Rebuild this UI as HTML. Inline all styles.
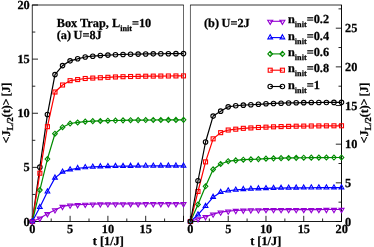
<!DOCTYPE html>
<html><head><meta charset="utf-8"><title>chart</title><style>html,body{margin:0;padding:0;background:#fff}text{stroke:#000;stroke-width:0.25px}</style></head><body>
<svg width="374" height="247" viewBox="0 0 374 247" style="display:block;will-change:transform;font-family:'Liberation Serif',serif;font-weight:bold;font-size:12.3px;text-rendering:geometricPrecision" fill="#000">
<rect width="374" height="247" fill="#fff"/>
<path d="M32.3 5.0V221.5" stroke="#000" stroke-width="0.8" fill="none"/><path d="M183.5 5.0V221.5" stroke="#000" stroke-width="0.6" fill="none"/><path d="M31.9 5.0H183.8" stroke="#000" stroke-width="0.8" fill="none"/><path d="M31.9 221.5H183.8" stroke="#000" stroke-width="0.9" fill="none"/>
<path d="M190.45 5.0V221.5" stroke="#000" stroke-width="0.6" fill="none"/><path d="M341.5 5.0V221.5" stroke="#000" stroke-width="0.95" fill="none"/><path d="M190.14999999999998 5.0H341.975" stroke="#000" stroke-width="0.8" fill="none"/><path d="M190.14999999999998 221.5H341.975" stroke="#000" stroke-width="0.9" fill="none"/>
<path d="M32.30 221.5v-5.7" stroke="#000" stroke-width="0.85" fill="none"/>
<path d="M51.20 221.5v-3.0" stroke="#000" stroke-width="0.85" fill="none"/>
<path d="M70.10 221.5v-5.7" stroke="#000" stroke-width="0.85" fill="none"/>
<path d="M89.00 221.5v-3.0" stroke="#000" stroke-width="0.85" fill="none"/>
<path d="M107.90 221.5v-5.7" stroke="#000" stroke-width="0.85" fill="none"/>
<path d="M126.80 221.5v-3.0" stroke="#000" stroke-width="0.85" fill="none"/>
<path d="M145.70 221.5v-5.7" stroke="#000" stroke-width="0.85" fill="none"/>
<path d="M164.60 221.5v-3.0" stroke="#000" stroke-width="0.85" fill="none"/>
<path d="M183.50 221.5v-5.7" stroke="#000" stroke-width="0.85" fill="none"/>
<path d="M190.45 221.5v-5.7" stroke="#000" stroke-width="0.85" fill="none"/>
<path d="M209.33 221.5v-3.0" stroke="#000" stroke-width="0.85" fill="none"/>
<path d="M228.21 221.5v-5.7" stroke="#000" stroke-width="0.85" fill="none"/>
<path d="M247.09 221.5v-3.0" stroke="#000" stroke-width="0.85" fill="none"/>
<path d="M265.98 221.5v-5.7" stroke="#000" stroke-width="0.85" fill="none"/>
<path d="M284.86 221.5v-3.0" stroke="#000" stroke-width="0.85" fill="none"/>
<path d="M303.74 221.5v-5.7" stroke="#000" stroke-width="0.85" fill="none"/>
<path d="M322.62 221.5v-3.0" stroke="#000" stroke-width="0.85" fill="none"/>
<path d="M341.50 221.5v-5.7" stroke="#000" stroke-width="0.85" fill="none"/>
<path d="M32.3 221.50h5.7" stroke="#000" stroke-width="0.85" fill="none"/>
<path d="M32.3 194.44h3.0" stroke="#000" stroke-width="0.85" fill="none"/>
<path d="M32.3 167.38h5.7" stroke="#000" stroke-width="0.85" fill="none"/>
<path d="M32.3 140.31h3.0" stroke="#000" stroke-width="0.85" fill="none"/>
<path d="M32.3 113.25h5.7" stroke="#000" stroke-width="0.85" fill="none"/>
<path d="M32.3 86.19h3.0" stroke="#000" stroke-width="0.85" fill="none"/>
<path d="M32.3 59.12h5.7" stroke="#000" stroke-width="0.85" fill="none"/>
<path d="M32.3 32.06h3.0" stroke="#000" stroke-width="0.85" fill="none"/>
<path d="M32.3 5.00h5.7" stroke="#000" stroke-width="0.85" fill="none"/>
<path d="M341.5 221.50h-5.7" stroke="#000" stroke-width="0.85" fill="none"/>
<path d="M341.5 202.17h-3.0" stroke="#000" stroke-width="0.85" fill="none"/>
<path d="M341.5 182.84h-5.7" stroke="#000" stroke-width="0.85" fill="none"/>
<path d="M341.5 163.51h-3.0" stroke="#000" stroke-width="0.85" fill="none"/>
<path d="M341.5 144.18h-5.7" stroke="#000" stroke-width="0.85" fill="none"/>
<path d="M341.5 124.85h-3.0" stroke="#000" stroke-width="0.85" fill="none"/>
<path d="M341.5 105.52h-5.7" stroke="#000" stroke-width="0.85" fill="none"/>
<path d="M341.5 86.19h-3.0" stroke="#000" stroke-width="0.85" fill="none"/>
<path d="M341.5 66.86h-5.7" stroke="#000" stroke-width="0.85" fill="none"/>
<path d="M341.5 47.53h-3.0" stroke="#000" stroke-width="0.85" fill="none"/>
<path d="M341.5 28.20h-5.7" stroke="#000" stroke-width="0.85" fill="none"/>
<path d="M341.5 8.87h-3.0" stroke="#000" stroke-width="0.85" fill="none"/>
<path d="M32.30 221.50L39.86 167.16L47.42 114.55L54.98 74.60L62.54 65.62L70.10 60.86L77.66 58.80L85.22 56.96L92.78 56.20L100.34 55.55L107.90 55.12L115.46 54.75L123.02 54.47L130.58 54.25L138.14 54.08L145.70 53.94L153.26 53.84L160.82 53.76L168.38 53.69L175.94 53.64L183.50 53.60" fill="none" stroke="#000000" stroke-width="1.2" stroke-linejoin="round"/>
<circle cx="32.30" cy="221.50" r="2.25" fill="none" stroke="#000000" stroke-width="1.1"/>
<circle cx="39.86" cy="167.16" r="2.25" fill="none" stroke="#000000" stroke-width="1.1"/>
<circle cx="47.42" cy="114.55" r="2.25" fill="none" stroke="#000000" stroke-width="1.1"/>
<circle cx="54.98" cy="74.60" r="2.25" fill="none" stroke="#000000" stroke-width="1.1"/>
<circle cx="62.54" cy="65.62" r="2.25" fill="none" stroke="#000000" stroke-width="1.1"/>
<circle cx="70.10" cy="60.86" r="2.25" fill="none" stroke="#000000" stroke-width="1.1"/>
<circle cx="77.66" cy="58.80" r="2.25" fill="none" stroke="#000000" stroke-width="1.1"/>
<circle cx="85.22" cy="56.96" r="2.25" fill="none" stroke="#000000" stroke-width="1.1"/>
<circle cx="92.78" cy="56.20" r="2.25" fill="none" stroke="#000000" stroke-width="1.1"/>
<circle cx="100.34" cy="55.55" r="2.25" fill="none" stroke="#000000" stroke-width="1.1"/>
<circle cx="107.90" cy="55.12" r="2.25" fill="none" stroke="#000000" stroke-width="1.1"/>
<circle cx="115.46" cy="54.75" r="2.25" fill="none" stroke="#000000" stroke-width="1.1"/>
<circle cx="123.02" cy="54.47" r="2.25" fill="none" stroke="#000000" stroke-width="1.1"/>
<circle cx="130.58" cy="54.25" r="2.25" fill="none" stroke="#000000" stroke-width="1.1"/>
<circle cx="138.14" cy="54.08" r="2.25" fill="none" stroke="#000000" stroke-width="1.1"/>
<circle cx="145.70" cy="53.94" r="2.25" fill="none" stroke="#000000" stroke-width="1.1"/>
<circle cx="153.26" cy="53.84" r="2.25" fill="none" stroke="#000000" stroke-width="1.1"/>
<circle cx="160.82" cy="53.76" r="2.25" fill="none" stroke="#000000" stroke-width="1.1"/>
<circle cx="168.38" cy="53.69" r="2.25" fill="none" stroke="#000000" stroke-width="1.1"/>
<circle cx="175.94" cy="53.64" r="2.25" fill="none" stroke="#000000" stroke-width="1.1"/>
<circle cx="183.50" cy="53.60" r="2.25" fill="none" stroke="#000000" stroke-width="1.1"/>
<path d="M32.30 221.50L39.86 173.22L47.42 126.67L54.98 92.03L62.54 85.00L70.10 80.67L77.66 79.58L85.22 78.50L92.78 78.07L100.34 77.74L107.90 77.31L115.46 76.97L123.02 76.71L130.58 76.50L138.14 76.34L145.70 76.22L153.26 76.12L160.82 76.04L168.38 75.99L175.94 75.94L183.50 75.90" fill="none" stroke="#ff0000" stroke-width="1.2" stroke-linejoin="round"/>
<rect x="30.30" y="219.50" width="4.0" height="4.0" fill="none" stroke="#ff0000" stroke-width="1.1"/>
<rect x="37.86" y="171.22" width="4.0" height="4.0" fill="none" stroke="#ff0000" stroke-width="1.1"/>
<rect x="45.42" y="124.67" width="4.0" height="4.0" fill="none" stroke="#ff0000" stroke-width="1.1"/>
<rect x="52.98" y="90.03" width="4.0" height="4.0" fill="none" stroke="#ff0000" stroke-width="1.1"/>
<rect x="60.54" y="83.00" width="4.0" height="4.0" fill="none" stroke="#ff0000" stroke-width="1.1"/>
<rect x="68.10" y="78.67" width="4.0" height="4.0" fill="none" stroke="#ff0000" stroke-width="1.1"/>
<rect x="75.66" y="77.58" width="4.0" height="4.0" fill="none" stroke="#ff0000" stroke-width="1.1"/>
<rect x="83.22" y="76.50" width="4.0" height="4.0" fill="none" stroke="#ff0000" stroke-width="1.1"/>
<rect x="90.78" y="76.07" width="4.0" height="4.0" fill="none" stroke="#ff0000" stroke-width="1.1"/>
<rect x="98.34" y="75.74" width="4.0" height="4.0" fill="none" stroke="#ff0000" stroke-width="1.1"/>
<rect x="105.90" y="75.31" width="4.0" height="4.0" fill="none" stroke="#ff0000" stroke-width="1.1"/>
<rect x="113.46" y="74.97" width="4.0" height="4.0" fill="none" stroke="#ff0000" stroke-width="1.1"/>
<rect x="121.02" y="74.71" width="4.0" height="4.0" fill="none" stroke="#ff0000" stroke-width="1.1"/>
<rect x="128.58" y="74.50" width="4.0" height="4.0" fill="none" stroke="#ff0000" stroke-width="1.1"/>
<rect x="136.14" y="74.34" width="4.0" height="4.0" fill="none" stroke="#ff0000" stroke-width="1.1"/>
<rect x="143.70" y="74.22" width="4.0" height="4.0" fill="none" stroke="#ff0000" stroke-width="1.1"/>
<rect x="151.26" y="74.12" width="4.0" height="4.0" fill="none" stroke="#ff0000" stroke-width="1.1"/>
<rect x="158.82" y="74.04" width="4.0" height="4.0" fill="none" stroke="#ff0000" stroke-width="1.1"/>
<rect x="166.38" y="73.99" width="4.0" height="4.0" fill="none" stroke="#ff0000" stroke-width="1.1"/>
<rect x="173.94" y="73.94" width="4.0" height="4.0" fill="none" stroke="#ff0000" stroke-width="1.1"/>
<rect x="181.50" y="73.90" width="4.0" height="4.0" fill="none" stroke="#ff0000" stroke-width="1.1"/>
<path d="M32.30 221.50L39.86 190.11L47.42 159.04L54.98 133.71L62.54 127.21L70.10 123.53L77.66 122.45L85.22 121.59L92.78 121.15L100.34 120.94L107.90 120.72L115.46 120.51L123.02 120.35L130.58 120.22L138.14 120.12L145.70 120.05L153.26 119.99L160.82 119.94L168.38 119.90L175.94 119.88L183.50 119.85" fill="none" stroke="#008b00" stroke-width="1.2" stroke-linejoin="round"/>
<path d="M29.95 221.50L32.30 219.00L34.65 221.50L32.30 224.00Z" fill="none" stroke="#008b00" stroke-width="1.1"/>
<path d="M37.51 190.11L39.86 187.61L42.21 190.11L39.86 192.61Z" fill="none" stroke="#008b00" stroke-width="1.1"/>
<path d="M45.07 159.04L47.42 156.54L49.77 159.04L47.42 161.54Z" fill="none" stroke="#008b00" stroke-width="1.1"/>
<path d="M52.63 133.71L54.98 131.21L57.33 133.71L54.98 136.21Z" fill="none" stroke="#008b00" stroke-width="1.1"/>
<path d="M60.19 127.21L62.54 124.71L64.89 127.21L62.54 129.71Z" fill="none" stroke="#008b00" stroke-width="1.1"/>
<path d="M67.75 123.53L70.10 121.03L72.45 123.53L70.10 126.03Z" fill="none" stroke="#008b00" stroke-width="1.1"/>
<path d="M75.31 122.45L77.66 119.95L80.01 122.45L77.66 124.95Z" fill="none" stroke="#008b00" stroke-width="1.1"/>
<path d="M82.87 121.59L85.22 119.09L87.57 121.59L85.22 124.09Z" fill="none" stroke="#008b00" stroke-width="1.1"/>
<path d="M90.43 121.15L92.78 118.65L95.13 121.15L92.78 123.65Z" fill="none" stroke="#008b00" stroke-width="1.1"/>
<path d="M97.99 120.94L100.34 118.44L102.69 120.94L100.34 123.44Z" fill="none" stroke="#008b00" stroke-width="1.1"/>
<path d="M105.55 120.72L107.90 118.22L110.25 120.72L107.90 123.22Z" fill="none" stroke="#008b00" stroke-width="1.1"/>
<path d="M113.11 120.51L115.46 118.01L117.81 120.51L115.46 123.01Z" fill="none" stroke="#008b00" stroke-width="1.1"/>
<path d="M120.67 120.35L123.02 117.85L125.37 120.35L123.02 122.85Z" fill="none" stroke="#008b00" stroke-width="1.1"/>
<path d="M128.23 120.22L130.58 117.72L132.93 120.22L130.58 122.72Z" fill="none" stroke="#008b00" stroke-width="1.1"/>
<path d="M135.79 120.12L138.14 117.62L140.49 120.12L138.14 122.62Z" fill="none" stroke="#008b00" stroke-width="1.1"/>
<path d="M143.35 120.05L145.70 117.55L148.05 120.05L145.70 122.55Z" fill="none" stroke="#008b00" stroke-width="1.1"/>
<path d="M150.91 119.99L153.26 117.49L155.61 119.99L153.26 122.49Z" fill="none" stroke="#008b00" stroke-width="1.1"/>
<path d="M158.47 119.94L160.82 117.44L163.17 119.94L160.82 122.44Z" fill="none" stroke="#008b00" stroke-width="1.1"/>
<path d="M166.03 119.90L168.38 117.40L170.73 119.90L168.38 122.40Z" fill="none" stroke="#008b00" stroke-width="1.1"/>
<path d="M173.59 119.88L175.94 117.38L178.29 119.88L175.94 122.38Z" fill="none" stroke="#008b00" stroke-width="1.1"/>
<path d="M181.15 119.85L183.50 117.35L185.85 119.85L183.50 122.35Z" fill="none" stroke="#008b00" stroke-width="1.1"/>
<path d="M32.30 221.50L39.86 207.32L47.42 191.73L54.98 177.88L62.54 171.92L70.10 169.65L77.66 168.35L85.22 167.48L92.78 166.94L100.34 166.62L107.90 166.40L115.46 166.27L123.02 166.17L130.58 166.09L138.14 166.03L145.70 165.98L153.26 165.94L160.82 165.91L168.38 165.89L175.94 165.87L183.50 165.86" fill="none" stroke="#0000ff" stroke-width="1.2" stroke-linejoin="round"/>
<path d="M32.30 218.60L34.65 222.75L29.95 222.75Z" fill="none" stroke="#0000ff" stroke-width="1.1"/>
<path d="M39.86 204.42L42.21 208.57L37.51 208.57Z" fill="none" stroke="#0000ff" stroke-width="1.1"/>
<path d="M47.42 188.83L49.77 192.98L45.07 192.98Z" fill="none" stroke="#0000ff" stroke-width="1.1"/>
<path d="M54.98 174.98L57.33 179.13L52.63 179.13Z" fill="none" stroke="#0000ff" stroke-width="1.1"/>
<path d="M62.54 169.02L64.89 173.17L60.19 173.17Z" fill="none" stroke="#0000ff" stroke-width="1.1"/>
<path d="M70.10 166.75L72.45 170.90L67.75 170.90Z" fill="none" stroke="#0000ff" stroke-width="1.1"/>
<path d="M77.66 165.45L80.01 169.60L75.31 169.60Z" fill="none" stroke="#0000ff" stroke-width="1.1"/>
<path d="M85.22 164.58L87.57 168.73L82.87 168.73Z" fill="none" stroke="#0000ff" stroke-width="1.1"/>
<path d="M92.78 164.04L95.13 168.19L90.43 168.19Z" fill="none" stroke="#0000ff" stroke-width="1.1"/>
<path d="M100.34 163.72L102.69 167.87L97.99 167.87Z" fill="none" stroke="#0000ff" stroke-width="1.1"/>
<path d="M107.90 163.50L110.25 167.65L105.55 167.65Z" fill="none" stroke="#0000ff" stroke-width="1.1"/>
<path d="M115.46 163.37L117.81 167.52L113.11 167.52Z" fill="none" stroke="#0000ff" stroke-width="1.1"/>
<path d="M123.02 163.27L125.37 167.42L120.67 167.42Z" fill="none" stroke="#0000ff" stroke-width="1.1"/>
<path d="M130.58 163.19L132.93 167.34L128.23 167.34Z" fill="none" stroke="#0000ff" stroke-width="1.1"/>
<path d="M138.14 163.13L140.49 167.28L135.79 167.28Z" fill="none" stroke="#0000ff" stroke-width="1.1"/>
<path d="M145.70 163.08L148.05 167.23L143.35 167.23Z" fill="none" stroke="#0000ff" stroke-width="1.1"/>
<path d="M153.26 163.04L155.61 167.19L150.91 167.19Z" fill="none" stroke="#0000ff" stroke-width="1.1"/>
<path d="M160.82 163.01L163.17 167.16L158.47 167.16Z" fill="none" stroke="#0000ff" stroke-width="1.1"/>
<path d="M168.38 162.99L170.73 167.14L166.03 167.14Z" fill="none" stroke="#0000ff" stroke-width="1.1"/>
<path d="M175.94 162.97L178.29 167.12L173.59 167.12Z" fill="none" stroke="#0000ff" stroke-width="1.1"/>
<path d="M183.50 162.96L185.85 167.11L181.15 167.11Z" fill="none" stroke="#0000ff" stroke-width="1.1"/>
<path d="M32.30 221.50L39.86 218.25L47.42 213.71L54.98 209.92L62.54 206.45L70.10 205.15L77.66 204.72L85.22 204.29L92.78 204.07L100.34 203.96L107.90 203.86L115.46 203.83L123.02 203.81L130.58 203.79L138.14 203.78L145.70 203.77L153.26 203.76L160.82 203.76L168.38 203.75L175.94 203.75L183.50 203.75" fill="none" stroke="#9400d3" stroke-width="1.2" stroke-linejoin="round"/>
<path d="M32.30 224.60L34.80 220.40L29.80 220.40Z" fill="none" stroke="#9400d3" stroke-width="1.1"/>
<path d="M39.86 221.35L42.36 217.15L37.36 217.15Z" fill="none" stroke="#9400d3" stroke-width="1.1"/>
<path d="M47.42 216.81L49.92 212.61L44.92 212.61Z" fill="none" stroke="#9400d3" stroke-width="1.1"/>
<path d="M54.98 213.02L57.48 208.82L52.48 208.82Z" fill="none" stroke="#9400d3" stroke-width="1.1"/>
<path d="M62.54 209.55L65.04 205.35L60.04 205.35Z" fill="none" stroke="#9400d3" stroke-width="1.1"/>
<path d="M70.10 208.25L72.60 204.05L67.60 204.05Z" fill="none" stroke="#9400d3" stroke-width="1.1"/>
<path d="M77.66 207.82L80.16 203.62L75.16 203.62Z" fill="none" stroke="#9400d3" stroke-width="1.1"/>
<path d="M85.22 207.39L87.72 203.19L82.72 203.19Z" fill="none" stroke="#9400d3" stroke-width="1.1"/>
<path d="M92.78 207.17L95.28 202.97L90.28 202.97Z" fill="none" stroke="#9400d3" stroke-width="1.1"/>
<path d="M100.34 207.06L102.84 202.86L97.84 202.86Z" fill="none" stroke="#9400d3" stroke-width="1.1"/>
<path d="M107.90 206.96L110.40 202.76L105.40 202.76Z" fill="none" stroke="#9400d3" stroke-width="1.1"/>
<path d="M115.46 206.93L117.96 202.73L112.96 202.73Z" fill="none" stroke="#9400d3" stroke-width="1.1"/>
<path d="M123.02 206.91L125.52 202.71L120.52 202.71Z" fill="none" stroke="#9400d3" stroke-width="1.1"/>
<path d="M130.58 206.89L133.08 202.69L128.08 202.69Z" fill="none" stroke="#9400d3" stroke-width="1.1"/>
<path d="M138.14 206.88L140.64 202.68L135.64 202.68Z" fill="none" stroke="#9400d3" stroke-width="1.1"/>
<path d="M145.70 206.87L148.20 202.67L143.20 202.67Z" fill="none" stroke="#9400d3" stroke-width="1.1"/>
<path d="M153.26 206.86L155.76 202.66L150.76 202.66Z" fill="none" stroke="#9400d3" stroke-width="1.1"/>
<path d="M160.82 206.86L163.32 202.66L158.32 202.66Z" fill="none" stroke="#9400d3" stroke-width="1.1"/>
<path d="M168.38 206.85L170.88 202.65L165.88 202.65Z" fill="none" stroke="#9400d3" stroke-width="1.1"/>
<path d="M175.94 206.85L178.44 202.65L173.44 202.65Z" fill="none" stroke="#9400d3" stroke-width="1.1"/>
<path d="M183.50 206.85L186.00 202.65L181.00 202.65Z" fill="none" stroke="#9400d3" stroke-width="1.1"/>
<path d="M190.45 221.50L198.00 218.79L205.55 216.71L213.11 214.08L220.66 212.07L228.21 211.06L235.76 210.52L243.32 210.21L250.87 209.98L258.42 209.82L265.98 209.67L273.53 209.63L281.08 209.60L288.63 209.58L296.19 209.56L303.74 209.55L311.29 209.54L318.84 209.53L326.39 209.52L333.95 209.52L341.50 209.52" fill="none" stroke="#9400d3" stroke-width="1.2" stroke-linejoin="round"/>
<path d="M190.45 224.60L192.95 220.40L187.95 220.40Z" fill="none" stroke="#9400d3" stroke-width="1.1"/>
<path d="M198.00 221.89L200.50 217.69L195.50 217.69Z" fill="none" stroke="#9400d3" stroke-width="1.1"/>
<path d="M205.55 219.81L208.05 215.61L203.05 215.61Z" fill="none" stroke="#9400d3" stroke-width="1.1"/>
<path d="M213.11 217.18L215.61 212.98L210.61 212.98Z" fill="none" stroke="#9400d3" stroke-width="1.1"/>
<path d="M220.66 215.17L223.16 210.97L218.16 210.97Z" fill="none" stroke="#9400d3" stroke-width="1.1"/>
<path d="M228.21 214.16L230.71 209.96L225.71 209.96Z" fill="none" stroke="#9400d3" stroke-width="1.1"/>
<path d="M235.76 213.62L238.26 209.42L233.26 209.42Z" fill="none" stroke="#9400d3" stroke-width="1.1"/>
<path d="M243.32 213.31L245.82 209.11L240.82 209.11Z" fill="none" stroke="#9400d3" stroke-width="1.1"/>
<path d="M250.87 213.08L253.37 208.88L248.37 208.88Z" fill="none" stroke="#9400d3" stroke-width="1.1"/>
<path d="M258.42 212.92L260.92 208.72L255.92 208.72Z" fill="none" stroke="#9400d3" stroke-width="1.1"/>
<path d="M265.98 212.77L268.48 208.57L263.48 208.57Z" fill="none" stroke="#9400d3" stroke-width="1.1"/>
<path d="M273.53 212.73L276.03 208.53L271.03 208.53Z" fill="none" stroke="#9400d3" stroke-width="1.1"/>
<path d="M281.08 212.70L283.58 208.50L278.58 208.50Z" fill="none" stroke="#9400d3" stroke-width="1.1"/>
<path d="M288.63 212.68L291.13 208.48L286.13 208.48Z" fill="none" stroke="#9400d3" stroke-width="1.1"/>
<path d="M296.19 212.66L298.69 208.46L293.69 208.46Z" fill="none" stroke="#9400d3" stroke-width="1.1"/>
<path d="M303.74 212.65L306.24 208.45L301.24 208.45Z" fill="none" stroke="#9400d3" stroke-width="1.1"/>
<path d="M311.29 212.64L313.79 208.44L308.79 208.44Z" fill="none" stroke="#9400d3" stroke-width="1.1"/>
<path d="M318.84 212.63L321.34 208.43L316.34 208.43Z" fill="none" stroke="#9400d3" stroke-width="1.1"/>
<path d="M326.39 212.62L328.89 208.42L323.89 208.42Z" fill="none" stroke="#9400d3" stroke-width="1.1"/>
<path d="M333.95 212.62L336.45 208.42L331.45 208.42Z" fill="none" stroke="#9400d3" stroke-width="1.1"/>
<path d="M341.50 212.62L344.00 208.42L339.00 208.42Z" fill="none" stroke="#9400d3" stroke-width="1.1"/>
<path d="M190.45 221.50L198.00 214.70L205.55 206.19L213.11 197.14L220.66 192.27L228.21 190.73L235.76 189.95L243.32 189.33L250.87 188.95L258.42 188.64L265.98 188.41L273.53 188.22L281.08 188.07L288.63 187.96L296.19 187.87L303.74 187.81L311.29 187.75L318.84 187.71L326.39 187.68L333.95 187.65L341.50 187.63" fill="none" stroke="#0000ff" stroke-width="1.2" stroke-linejoin="round"/>
<path d="M190.45 218.60L192.80 222.75L188.10 222.75Z" fill="none" stroke="#0000ff" stroke-width="1.1"/>
<path d="M198.00 211.80L200.35 215.95L195.65 215.95Z" fill="none" stroke="#0000ff" stroke-width="1.1"/>
<path d="M205.55 203.29L207.90 207.44L203.20 207.44Z" fill="none" stroke="#0000ff" stroke-width="1.1"/>
<path d="M213.11 194.24L215.46 198.39L210.76 198.39Z" fill="none" stroke="#0000ff" stroke-width="1.1"/>
<path d="M220.66 189.37L223.01 193.52L218.31 193.52Z" fill="none" stroke="#0000ff" stroke-width="1.1"/>
<path d="M228.21 187.83L230.56 191.98L225.86 191.98Z" fill="none" stroke="#0000ff" stroke-width="1.1"/>
<path d="M235.76 187.05L238.11 191.20L233.41 191.20Z" fill="none" stroke="#0000ff" stroke-width="1.1"/>
<path d="M243.32 186.43L245.67 190.58L240.97 190.58Z" fill="none" stroke="#0000ff" stroke-width="1.1"/>
<path d="M250.87 186.05L253.22 190.20L248.52 190.20Z" fill="none" stroke="#0000ff" stroke-width="1.1"/>
<path d="M258.42 185.74L260.77 189.89L256.07 189.89Z" fill="none" stroke="#0000ff" stroke-width="1.1"/>
<path d="M265.98 185.51L268.33 189.66L263.62 189.66Z" fill="none" stroke="#0000ff" stroke-width="1.1"/>
<path d="M273.53 185.32L275.88 189.47L271.18 189.47Z" fill="none" stroke="#0000ff" stroke-width="1.1"/>
<path d="M281.08 185.17L283.43 189.32L278.73 189.32Z" fill="none" stroke="#0000ff" stroke-width="1.1"/>
<path d="M288.63 185.06L290.98 189.21L286.28 189.21Z" fill="none" stroke="#0000ff" stroke-width="1.1"/>
<path d="M296.19 184.97L298.54 189.12L293.83 189.12Z" fill="none" stroke="#0000ff" stroke-width="1.1"/>
<path d="M303.74 184.91L306.09 189.06L301.39 189.06Z" fill="none" stroke="#0000ff" stroke-width="1.1"/>
<path d="M311.29 184.85L313.64 189.00L308.94 189.00Z" fill="none" stroke="#0000ff" stroke-width="1.1"/>
<path d="M318.84 184.81L321.19 188.96L316.49 188.96Z" fill="none" stroke="#0000ff" stroke-width="1.1"/>
<path d="M326.39 184.78L328.75 188.93L324.04 188.93Z" fill="none" stroke="#0000ff" stroke-width="1.1"/>
<path d="M333.95 184.75L336.30 188.90L331.60 188.90Z" fill="none" stroke="#0000ff" stroke-width="1.1"/>
<path d="M341.50 184.73L343.85 188.88L339.15 188.88Z" fill="none" stroke="#0000ff" stroke-width="1.1"/>
<path d="M190.45 221.50L198.00 204.49L205.55 186.32L213.11 169.39L220.66 163.97L228.21 161.19L235.76 160.42L243.32 159.72L250.87 159.33L258.42 159.10L265.98 158.64L273.53 158.36L281.08 158.14L288.63 157.97L296.19 157.84L303.74 157.74L311.29 157.66L318.84 157.59L326.39 157.55L333.95 157.51L341.50 157.48" fill="none" stroke="#008b00" stroke-width="1.2" stroke-linejoin="round"/>
<path d="M188.10 221.50L190.45 219.00L192.80 221.50L190.45 224.00Z" fill="none" stroke="#008b00" stroke-width="1.1"/>
<path d="M195.65 204.49L198.00 201.99L200.35 204.49L198.00 206.99Z" fill="none" stroke="#008b00" stroke-width="1.1"/>
<path d="M203.20 186.32L205.55 183.82L207.90 186.32L205.55 188.82Z" fill="none" stroke="#008b00" stroke-width="1.1"/>
<path d="M210.76 169.39L213.11 166.89L215.46 169.39L213.11 171.89Z" fill="none" stroke="#008b00" stroke-width="1.1"/>
<path d="M218.31 163.97L220.66 161.47L223.01 163.97L220.66 166.47Z" fill="none" stroke="#008b00" stroke-width="1.1"/>
<path d="M225.86 161.19L228.21 158.69L230.56 161.19L228.21 163.69Z" fill="none" stroke="#008b00" stroke-width="1.1"/>
<path d="M233.41 160.42L235.76 157.92L238.11 160.42L235.76 162.92Z" fill="none" stroke="#008b00" stroke-width="1.1"/>
<path d="M240.97 159.72L243.32 157.22L245.67 159.72L243.32 162.22Z" fill="none" stroke="#008b00" stroke-width="1.1"/>
<path d="M248.52 159.33L250.87 156.83L253.22 159.33L250.87 161.83Z" fill="none" stroke="#008b00" stroke-width="1.1"/>
<path d="M256.07 159.10L258.42 156.60L260.77 159.10L258.42 161.60Z" fill="none" stroke="#008b00" stroke-width="1.1"/>
<path d="M263.62 158.64L265.98 156.14L268.33 158.64L265.98 161.14Z" fill="none" stroke="#008b00" stroke-width="1.1"/>
<path d="M271.18 158.36L273.53 155.86L275.88 158.36L273.53 160.86Z" fill="none" stroke="#008b00" stroke-width="1.1"/>
<path d="M278.73 158.14L281.08 155.64L283.43 158.14L281.08 160.64Z" fill="none" stroke="#008b00" stroke-width="1.1"/>
<path d="M286.28 157.97L288.63 155.47L290.98 157.97L288.63 160.47Z" fill="none" stroke="#008b00" stroke-width="1.1"/>
<path d="M293.83 157.84L296.19 155.34L298.54 157.84L296.19 160.34Z" fill="none" stroke="#008b00" stroke-width="1.1"/>
<path d="M301.39 157.74L303.74 155.24L306.09 157.74L303.74 160.24Z" fill="none" stroke="#008b00" stroke-width="1.1"/>
<path d="M308.94 157.66L311.29 155.16L313.64 157.66L311.29 160.16Z" fill="none" stroke="#008b00" stroke-width="1.1"/>
<path d="M316.49 157.59L318.84 155.09L321.19 157.59L318.84 160.09Z" fill="none" stroke="#008b00" stroke-width="1.1"/>
<path d="M324.04 157.55L326.39 155.05L328.75 157.55L326.39 160.05Z" fill="none" stroke="#008b00" stroke-width="1.1"/>
<path d="M331.60 157.51L333.95 155.01L336.30 157.51L333.95 160.01Z" fill="none" stroke="#008b00" stroke-width="1.1"/>
<path d="M339.15 157.48L341.50 154.98L343.85 157.48L341.50 159.98Z" fill="none" stroke="#008b00" stroke-width="1.1"/>
<path d="M190.45 221.50L198.00 191.50L205.55 161.89L213.11 138.84L220.66 132.66L228.21 130.03L235.76 129.18L243.32 128.33L250.87 127.94L258.42 127.48L265.98 127.17L273.53 126.83L281.08 126.57L288.63 126.37L296.19 126.21L303.74 126.09L311.29 125.99L318.84 125.92L326.39 125.86L333.95 125.81L341.50 125.78" fill="none" stroke="#ff0000" stroke-width="1.2" stroke-linejoin="round"/>
<rect x="188.45" y="219.50" width="4.0" height="4.0" fill="none" stroke="#ff0000" stroke-width="1.1"/>
<rect x="196.00" y="189.50" width="4.0" height="4.0" fill="none" stroke="#ff0000" stroke-width="1.1"/>
<rect x="203.55" y="159.89" width="4.0" height="4.0" fill="none" stroke="#ff0000" stroke-width="1.1"/>
<rect x="211.11" y="136.84" width="4.0" height="4.0" fill="none" stroke="#ff0000" stroke-width="1.1"/>
<rect x="218.66" y="130.66" width="4.0" height="4.0" fill="none" stroke="#ff0000" stroke-width="1.1"/>
<rect x="226.21" y="128.03" width="4.0" height="4.0" fill="none" stroke="#ff0000" stroke-width="1.1"/>
<rect x="233.76" y="127.18" width="4.0" height="4.0" fill="none" stroke="#ff0000" stroke-width="1.1"/>
<rect x="241.32" y="126.33" width="4.0" height="4.0" fill="none" stroke="#ff0000" stroke-width="1.1"/>
<rect x="248.87" y="125.94" width="4.0" height="4.0" fill="none" stroke="#ff0000" stroke-width="1.1"/>
<rect x="256.42" y="125.48" width="4.0" height="4.0" fill="none" stroke="#ff0000" stroke-width="1.1"/>
<rect x="263.98" y="125.17" width="4.0" height="4.0" fill="none" stroke="#ff0000" stroke-width="1.1"/>
<rect x="271.53" y="124.83" width="4.0" height="4.0" fill="none" stroke="#ff0000" stroke-width="1.1"/>
<rect x="279.08" y="124.57" width="4.0" height="4.0" fill="none" stroke="#ff0000" stroke-width="1.1"/>
<rect x="286.63" y="124.37" width="4.0" height="4.0" fill="none" stroke="#ff0000" stroke-width="1.1"/>
<rect x="294.19" y="124.21" width="4.0" height="4.0" fill="none" stroke="#ff0000" stroke-width="1.1"/>
<rect x="301.74" y="124.09" width="4.0" height="4.0" fill="none" stroke="#ff0000" stroke-width="1.1"/>
<rect x="309.29" y="123.99" width="4.0" height="4.0" fill="none" stroke="#ff0000" stroke-width="1.1"/>
<rect x="316.84" y="123.92" width="4.0" height="4.0" fill="none" stroke="#ff0000" stroke-width="1.1"/>
<rect x="324.39" y="123.86" width="4.0" height="4.0" fill="none" stroke="#ff0000" stroke-width="1.1"/>
<rect x="331.95" y="123.81" width="4.0" height="4.0" fill="none" stroke="#ff0000" stroke-width="1.1"/>
<rect x="339.50" y="123.78" width="4.0" height="4.0" fill="none" stroke="#ff0000" stroke-width="1.1"/>
<path d="M190.45 221.50L198.00 180.75L205.55 142.01L213.11 116.11L220.66 111.16L228.21 106.83L235.76 105.75L243.32 105.13L250.87 104.74L258.42 104.28L265.98 103.82L273.53 103.46L281.08 103.19L288.63 102.97L296.19 102.81L303.74 102.67L311.29 102.57L318.84 102.49L326.39 102.43L333.95 102.38L341.50 102.35" fill="none" stroke="#000000" stroke-width="1.2" stroke-linejoin="round"/>
<circle cx="190.45" cy="221.50" r="2.25" fill="none" stroke="#000000" stroke-width="1.1"/>
<circle cx="198.00" cy="180.75" r="2.25" fill="none" stroke="#000000" stroke-width="1.1"/>
<circle cx="205.55" cy="142.01" r="2.25" fill="none" stroke="#000000" stroke-width="1.1"/>
<circle cx="213.11" cy="116.11" r="2.25" fill="none" stroke="#000000" stroke-width="1.1"/>
<circle cx="220.66" cy="111.16" r="2.25" fill="none" stroke="#000000" stroke-width="1.1"/>
<circle cx="228.21" cy="106.83" r="2.25" fill="none" stroke="#000000" stroke-width="1.1"/>
<circle cx="235.76" cy="105.75" r="2.25" fill="none" stroke="#000000" stroke-width="1.1"/>
<circle cx="243.32" cy="105.13" r="2.25" fill="none" stroke="#000000" stroke-width="1.1"/>
<circle cx="250.87" cy="104.74" r="2.25" fill="none" stroke="#000000" stroke-width="1.1"/>
<circle cx="258.42" cy="104.28" r="2.25" fill="none" stroke="#000000" stroke-width="1.1"/>
<circle cx="265.98" cy="103.82" r="2.25" fill="none" stroke="#000000" stroke-width="1.1"/>
<circle cx="273.53" cy="103.46" r="2.25" fill="none" stroke="#000000" stroke-width="1.1"/>
<circle cx="281.08" cy="103.19" r="2.25" fill="none" stroke="#000000" stroke-width="1.1"/>
<circle cx="288.63" cy="102.97" r="2.25" fill="none" stroke="#000000" stroke-width="1.1"/>
<circle cx="296.19" cy="102.81" r="2.25" fill="none" stroke="#000000" stroke-width="1.1"/>
<circle cx="303.74" cy="102.67" r="2.25" fill="none" stroke="#000000" stroke-width="1.1"/>
<circle cx="311.29" cy="102.57" r="2.25" fill="none" stroke="#000000" stroke-width="1.1"/>
<circle cx="318.84" cy="102.49" r="2.25" fill="none" stroke="#000000" stroke-width="1.1"/>
<circle cx="326.39" cy="102.43" r="2.25" fill="none" stroke="#000000" stroke-width="1.1"/>
<circle cx="333.95" cy="102.38" r="2.25" fill="none" stroke="#000000" stroke-width="1.1"/>
<circle cx="341.50" cy="102.35" r="2.25" fill="none" stroke="#000000" stroke-width="1.1"/>
<text x="32.30" y="233" text-anchor="middle">0</text>
<text x="70.10" y="233" text-anchor="middle">5</text>
<text x="107.90" y="233" text-anchor="middle">10</text>
<text x="145.70" y="233" text-anchor="middle">15</text>
<text x="190.45" y="233" text-anchor="middle">0</text>
<text x="228.25" y="233" text-anchor="middle">5</text>
<text x="266.05" y="233" text-anchor="middle">10</text>
<text x="303.85" y="233" text-anchor="middle">15</text>
<text x="341.65" y="233" text-anchor="middle">20</text>
<text x="29.7" y="225.50" text-anchor="end">0</text>
<text x="29.7" y="171.38" text-anchor="end">5</text>
<text x="29.7" y="117.25" text-anchor="end">10</text>
<text x="29.7" y="63.12" text-anchor="end">15</text>
<text x="29.7" y="9.00" text-anchor="end">20</text>
<text x="345.0" y="225.50">0</text>
<text x="345.0" y="186.84">5</text>
<text x="345.0" y="148.18">10</text>
<text x="345.0" y="109.52">15</text>
<text x="345.0" y="70.86">20</text>
<text x="345.0" y="32.20">25</text>
<text x="108.3" y="244.6" text-anchor="middle">t [1/J]</text>
<text x="265.7" y="244.6" text-anchor="middle">t [1/J]</text>
<text transform="translate(9.65 143.3) rotate(-90)" word-spacing="-1.1" font-size="12">&lt;J<tspan font-size="9.2" dy="3.3">L/2</tspan><tspan dy="-3.3">(t)&gt; [J]</tspan></text>
<text transform="translate(368.0 143.3) rotate(-90)" word-spacing="-1.1" font-size="12">&lt;J<tspan font-size="9.2" dy="3.3">L/2</tspan><tspan dy="-3.3">(t)&gt; [J]</tspan></text>
<text x="56.7" y="26.5">Box Trap, L<tspan font-size="8.2" dy="4.0">init</tspan><tspan dy="-4.0">=10</tspan></text>
<text x="56.7" y="39.0" word-spacing="-0.6">(a) U=8J</text>
<text x="204.0" y="26.8" word-spacing="-0.6">(b) U=2J</text>
<path d="M270.2 21.30H282.4" stroke="#9400d3" stroke-width="1.1"/>
<path d="M270.20 24.40L272.70 20.20L267.70 20.20Z" fill="none" stroke="#9400d3" stroke-width="1.1"/>
<path d="M282.40 24.40L284.90 20.20L279.90 20.20Z" fill="none" stroke="#9400d3" stroke-width="1.1"/>
<text x="288" y="23.30">n<tspan font-size="8.2" dy="4.0">init</tspan><tspan dy="-4.0">=0.2</tspan></text>
<path d="M270.2 37.60H282.4" stroke="#0000ff" stroke-width="1.1"/>
<path d="M270.20 34.70L272.55 38.85L267.85 38.85Z" fill="none" stroke="#0000ff" stroke-width="1.1"/>
<path d="M282.40 34.70L284.75 38.85L280.05 38.85Z" fill="none" stroke="#0000ff" stroke-width="1.1"/>
<text x="288" y="39.60">n<tspan font-size="8.2" dy="4.0">init</tspan><tspan dy="-4.0">=0.4</tspan></text>
<path d="M270.2 53.90H282.4" stroke="#008b00" stroke-width="1.1"/>
<path d="M267.85 53.90L270.20 51.40L272.55 53.90L270.20 56.40Z" fill="none" stroke="#008b00" stroke-width="1.1"/>
<path d="M280.05 53.90L282.40 51.40L284.75 53.90L282.40 56.40Z" fill="none" stroke="#008b00" stroke-width="1.1"/>
<text x="288" y="55.90">n<tspan font-size="8.2" dy="4.0">init</tspan><tspan dy="-4.0">=0.6</tspan></text>
<path d="M270.2 70.20H282.4" stroke="#ff0000" stroke-width="1.1"/>
<rect x="268.20" y="68.20" width="4.0" height="4.0" fill="none" stroke="#ff0000" stroke-width="1.1"/>
<rect x="280.40" y="68.20" width="4.0" height="4.0" fill="none" stroke="#ff0000" stroke-width="1.1"/>
<text x="288" y="72.20">n<tspan font-size="8.2" dy="4.0">init</tspan><tspan dy="-4.0">=0.8</tspan></text>
<path d="M270.2 86.50H282.4" stroke="#000000" stroke-width="1.1"/>
<circle cx="270.20" cy="86.50" r="2.25" fill="none" stroke="#000000" stroke-width="1.1"/>
<circle cx="282.40" cy="86.50" r="2.25" fill="none" stroke="#000000" stroke-width="1.1"/>
<text x="288" y="88.50">n<tspan font-size="8.2" dy="4.0">init</tspan><tspan dy="-4.0">=1</tspan></text>
</svg>
</body></html>
